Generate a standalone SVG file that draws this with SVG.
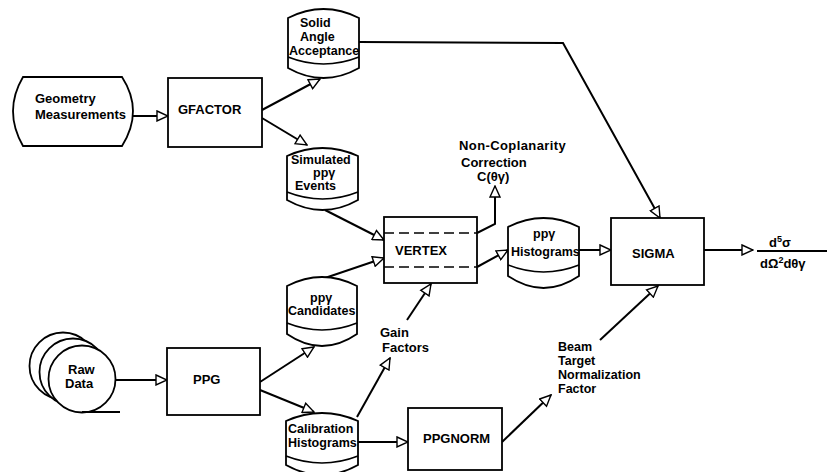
<svg xmlns="http://www.w3.org/2000/svg" width="827" height="472" viewBox="0 0 827 472">
<defs>
<marker id="ah" markerUnits="userSpaceOnUse" markerWidth="13" markerHeight="12" refX="11" refY="5" orient="auto" viewBox="-1 -1 13 12">
<path d="M0,0 L11,5 L0,10 Z" fill="#fff" stroke="#000" stroke-width="1.4" stroke-linejoin="miter"/>
</marker>
</defs>
<style>
.s{fill:#fff;stroke:#000;stroke-width:1.8}
.i{fill:none;stroke:#000;stroke-width:1.6}
.d{fill:none;stroke:#000;stroke-width:1.4;stroke-dasharray:10 5}
.c{fill:none;stroke:#000;stroke-width:2;marker-end:url(#ah)}
.p{fill:none;stroke:#000;stroke-width:2}
text{font-family:"Liberation Sans",Arial,sans-serif;font-weight:bold;font-size:13px;fill:#000}
.t{font-size:12.5px}
</style>
<rect width="827" height="472" fill="#fff"/>
<g id="connectors">
<path class="c" d="M133,116 L168,116"/>
<path class="c" d="M262,110 L320,79"/>
<path class="c" d="M262,118 L307,145"/>
<path class="c" d="M359,42 L563,43 L660,218"/>
<path class="c" d="M325,210 L384,240"/>
<path class="c" d="M325,278 L384,258"/>
<path class="c" d="M477,233 L495,224 L495,186"/>
<path class="c" d="M477,267 L508,250"/>
<path class="c" d="M579,250 L611,250"/>
<path class="c" d="M704,250 L753,250"/>
<path class="c" d="M115,380 L167,380"/>
<path class="c" d="M260,382 L314,347"/>
<path class="c" d="M260,390 L314,412"/>
<path class="c" d="M357,417 L390,358"/>
<path class="c" d="M407,320 L431,284"/>
<path class="c" d="M358,442 L408,442"/>
<path class="c" d="M502,442 L551,395"/>
<path class="c" d="M600,340 L658,286"/>
</g>
<g id="geometry">
<path class="s" d="M23,77 L122,77 Q144,111 122,146 L23,146 Q3,111 23,77 Z"/>
<text x="35" y="103">Geometry</text>
<text x="35" y="119">Measurements</text>
</g>
<g id="gfactor">
<rect class="s" x="168" y="78" width="94" height="69"/>
<text x="178" y="114">GFACTOR</text>
</g>
<g id="solid-angle">
<path class="s" d="M288,18 Q323.5,0 359,18 L359,68 Q323.5,88 288,68 Z"/>
<path class="i" d="M288,57 Q323.5,71 359,57"/>
<text class="t" x="300" y="27">Solid</text>
<text class="t" x="300" y="41">Angle</text>
<text class="t" x="289" y="55">Acceptance</text>
</g>
<g id="simulated">
<path class="s" d="M287,156 Q322.5,140 358,156 L358,200 Q322.5,220 287,200 Z"/>
<path class="i" d="M287,192 Q322.5,206 358,192"/>
<text class="t" x="291" y="164">Simulated</text>
<text class="t" x="313" y="177">ppγ</text>
<text class="t" x="295" y="190">Events</text>
</g>
<g id="vertex">
<rect class="s" x="384" y="217" width="93" height="66"/>
<path class="d" d="M384,233 L477,233 M384,267 L477,267"/>
<text x="395" y="255">VERTEX</text>
</g>
<g id="noncoplanarity">
<text x="459" y="150" letter-spacing="0.4">Non-Coplanarity</text>
<text x="461" y="167">Correction</text>
<text x="477" y="181">C(θγ)</text>
</g>
<g id="histograms">
<path class="s" d="M508,227 Q543.5,209 579,227 L579,276 Q543.5,300 508,276 Z"/>
<path class="i" d="M508,265 Q543.5,279 579,265"/>
<text class="t" x="533" y="238">ppγ</text>
<text class="t" x="511" y="256">Histograms</text>
</g>
<g id="sigma">
<rect class="s" x="611" y="218" width="93" height="67"/>
<text x="632" y="258">SIGMA</text>
</g>
<g id="result">
<path class="p" d="M757,251 L827,251" stroke-width="1.6"/>
<text x="769" y="247" font-size="14">d<tspan font-size="9" dy="-5">5</tspan><tspan dy="5">σ</tspan></text>
<text x="760" y="268">dΩ<tspan font-size="9" dy="-5">2</tspan><tspan dy="5">dθγ</tspan></text>
</g>
<g id="rawdata">
<circle class="s" cx="63" cy="366" r="33.5"/>
<circle class="s" cx="73" cy="372" r="33.5"/>
<circle class="s" cx="82" cy="379" r="33.5"/>
<path class="p" d="M82,412 L120,412" stroke-width="1.8"/>
<text x="68" y="374">Raw</text>
<text x="65" y="388">Data</text>
</g>
<g id="ppg">
<rect class="s" x="167" y="348" width="93" height="67"/>
<text x="193" y="384">PPG</text>
</g>
<g id="candidates">
<path class="s" d="M287,286 Q322,268 357,286 L357,334 Q322,358 287,334 Z"/>
<path class="i" d="M287,323 Q322,337 357,323"/>
<text class="t" x="310" y="302">ppγ</text>
<text class="t" x="288" y="315">Candidates</text>
</g>
<g id="gain">
<text x="380" y="337">Gain</text>
<text x="382" y="352">Factors</text>
</g>
<g id="calibration">
<path class="s" d="M286,421 Q322,405 358,421 L358,465 Q322,485 286,465 Z"/>
<path class="i" d="M286,456 Q322,470 358,456"/>
<text class="t" x="288" y="433">Calibration</text>
<text class="t" x="288" y="447">Histograms</text>
</g>
<g id="ppgnorm">
<rect class="s" x="408" y="408" width="94" height="62"/>
<text x="423" y="443">PPGNORM</text>
</g>
<g id="beam">
<text class="t" x="558" y="351">Beam</text>
<text class="t" x="558" y="365">Target</text>
<text class="t" x="558" y="379">Normalization</text>
<text class="t" x="558" y="393">Factor</text>
</g>
</svg>
